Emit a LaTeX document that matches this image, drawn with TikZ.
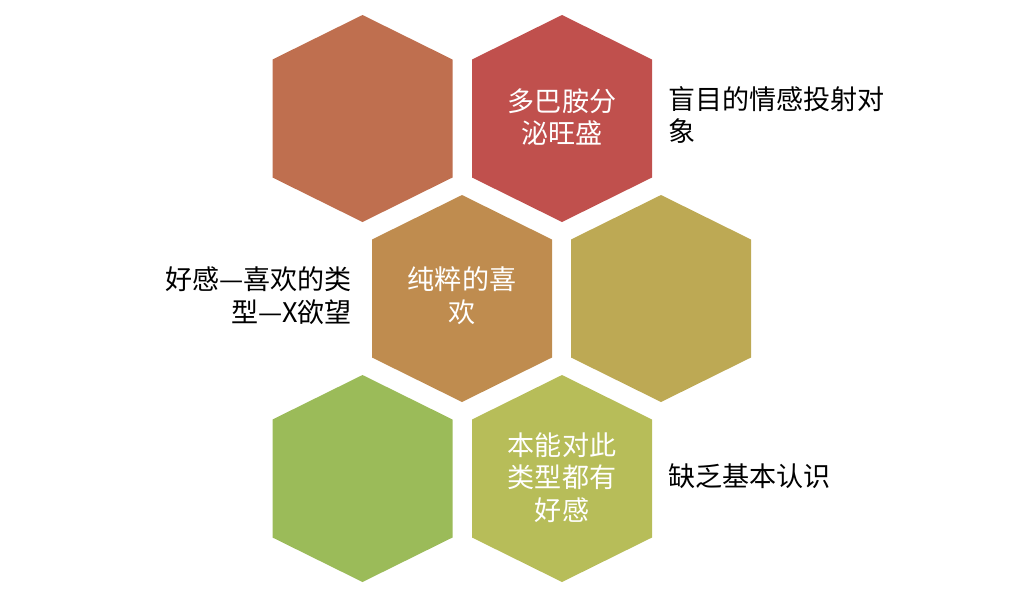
\documentclass[tikz,border=0pt]{standalone}
\usepackage{fontspec}
\newfontfamily\cjk{Noto Sans CJK SC}
\usepackage{tikz}
\usetikzlibrary{positioning}
\definecolor{hexred}{HTML}{C0504D}
\definecolor{hexrust}{HTML}{BF6F4F}
\definecolor{hexochre}{HTML}{BF8C4F}
\definecolor{hexmustard}{HTML}{BDA954}
\definecolor{hexolive}{HTML}{B7BD59}
\definecolor{hexgreen}{HTML}{9BBB59}

% centre x, centre y, colour
\newcommand{\hexcell}[3]{%
	\fill[#3] (#1,#2) ++(0,2.07) -- ++(1.8,-0.89) -- ++(0,-2.36) -- ++(-1.8,-0.89)
	-- ++(-1.8,0.89) -- ++(0,2.36) -- cycle;}

\tikzset{
	intext/.style={text=white, align=center, inner sep=0pt, font=\cjk\fontsize{15.4}{18.6}\selectfont},
	outtext/.style={text=black, inner sep=0pt, font=\cjk\fontsize{15.4}{18.6}\selectfont}
}

\begin{document}
\begin{tikzpicture}
		\useasboundingbox (0,0) rectangle (20.2,-11.94);
		
		%----------------------------------------------------------------
		\hexcell{7.25}{-2.37}{hexrust}
		\hexcell{11.24}{-2.37}{hexred}
		\hexcell{9.24}{-5.97}{hexochre}
		\hexcell{13.22}{-5.97}{hexmustard}
		\hexcell{7.25}{-9.57}{hexgreen}
		\hexcell{11.24}{-9.57}{hexolive}
		
		%----------------------------------------------------------------
		\node(dopamine) [intext] at (11.24,-2.34) {多巴胺分\\泌旺盛};
		\node(pure) [intext] at (9.24,-5.92) {纯粹的喜\\欢};
		\node(instinct) [intext] at (11.24,-9.55) {本能对此\\类型都有\\好感};
		
		%----------------------------------------------------------------
		\node(blind) [outtext,anchor=west,align=left] at (13.36,-2.30) {盲目的情感投射对\\象};
		\node(liking) [outtext,anchor=east,align=right] at (7.04,-5.91) {好感—喜欢的类\\型—X欲望};
		\node(lack) [outtext,anchor=west] at (13.36,-9.52) {缺乏基本认识};
		
\end{tikzpicture}
\end{document}
